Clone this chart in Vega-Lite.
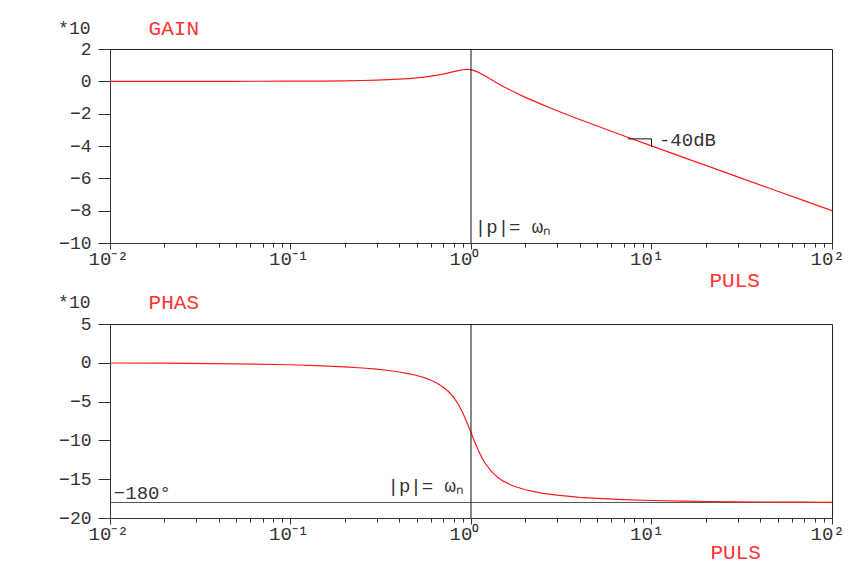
{
  "$schema": "https://vega.github.io/schema/vega-lite/v6.json",
  "background": "white",
  "padding": {"left": 57, "top": 17, "right": 0, "bottom": 0},
  "spacing": 81,
  "bounds": "flush",
  "config": {
    "font": "Liberation Mono",
    "view": {"stroke": "#222", "strokeWidth": 1},
    "axis": {
      "labelFont": "Liberation Mono", "labelFontSize": 18, "labelColor": "#333",
      "titleFont": "Liberation Mono", "titleFontWeight": "normal",
      "domainColor": "#333", "tickColor": "#333", "grid": false, "labelOverlap": false
    },
    "title": {"font": "Liberation Mono", "fontWeight": "normal", "fontSize": 21, "color": "#ff3333", "anchor": "start"}
  },
  "datasets": {
    "gain": [
      {"w": 0.01, "v": 0}, {"w": 0.02, "v": 0}, {"w": 0.05, "v": 0.002}, {"w": 0.1, "v": 0.008},
      {"w": 0.15, "v": 0.018}, {"w": 0.2, "v": 0.032}, {"w": 0.25, "v": 0.05}, {"w": 0.3, "v": 0.073},
      {"w": 0.35, "v": 0.1}, {"w": 0.4, "v": 0.133}, {"w": 0.45, "v": 0.171}, {"w": 0.5, "v": 0.214},
      {"w": 0.55, "v": 0.264}, {"w": 0.6, "v": 0.319}, {"w": 0.65, "v": 0.382}, {"w": 0.7, "v": 0.45},
      {"w": 0.75, "v": 0.522}, {"w": 0.8, "v": 0.596}, {"w": 0.85, "v": 0.664}, {"w": 0.9, "v": 0.715},
      {"w": 0.95, "v": 0.735}, {"w": 0.97, "v": 0.731}, {"w": 0.99, "v": 0.721}, {"w": 1.01, "v": 0.704},
      {"w": 1.03, "v": 0.68}, {"w": 1.05, "v": 0.65}, {"w": 1.1, "v": 0.555}, {"w": 1.15, "v": 0.444},
      {"w": 1.2, "v": 0.326}, {"w": 1.3, "v": 0.095}, {"w": 1.4, "v": -0.114}, {"w": 1.5, "v": -0.301},
      {"w": 1.7, "v": -0.616}, {"w": 2, "v": -0.99}, {"w": 2.5, "v": -1.459}, {"w": 3, "v": -1.818},
      {"w": 4, "v": -2.358}, {"w": 5, "v": -2.764}, {"w": 7, "v": -3.364}, {"w": 10, "v": -3.992},
      {"w": 15, "v": -4.701}, {"w": 20, "v": -5.202}, {"w": 30, "v": -5.908}, {"w": 50, "v": -6.796},
      {"w": 70, "v": -7.38}, {"w": 100, "v": -8.0}
    ],
    "phas": [
      {"w": 0.01, "v": -0.025}, {"w": 0.02, "v": -0.05}, {"w": 0.05, "v": -0.126}, {"w": 0.1, "v": -0.254},
      {"w": 0.15, "v": -0.386}, {"w": 0.2, "v": -0.524}, {"w": 0.25, "v": -0.669}, {"w": 0.3, "v": -0.825},
      {"w": 0.35, "v": -0.995}, {"w": 0.4, "v": -1.183}, {"w": 0.45, "v": -1.394}, {"w": 0.5, "v": -1.635},
      {"w": 0.55, "v": -1.913}, {"w": 0.6, "v": -2.242}, {"w": 0.65, "v": -2.635}, {"w": 0.7, "v": -3.113},
      {"w": 0.75, "v": -3.703}, {"w": 0.8, "v": -4.436}, {"w": 0.85, "v": -5.343}, {"w": 0.9, "v": -6.437},
      {"w": 0.95, "v": -7.687}, {"w": 0.97, "v": -8.212}, {"w": 0.99, "v": -8.738}, {"w": 1.01, "v": -9.259},
      {"w": 1.03, "v": -9.765}, {"w": 1.05, "v": -10.251}, {"w": 1.1, "v": -11.346}, {"w": 1.15, "v": -12.252},
      {"w": 1.2, "v": -12.981}, {"w": 1.3, "v": -14.034}, {"w": 1.4, "v": -14.731}, {"w": 1.5, "v": -15.216},
      {"w": 1.7, "v": -15.841}, {"w": 2, "v": -16.365}, {"w": 2.5, "v": -16.817}, {"w": 3, "v": -17.063},
      {"w": 4, "v": -17.331}, {"w": 5, "v": -17.476}, {"w": 7, "v": -17.633}, {"w": 10, "v": -17.746},
      {"w": 15, "v": -17.831}, {"w": 20, "v": -17.874}, {"w": 30, "v": -17.916}, {"w": 50, "v": -17.95},
      {"w": 70, "v": -17.964}, {"w": 100, "v": -17.975}
    ]
  },
  "vconcat": [
    {
      "width": 722, "height": 194,
      "title": {"text": "GAIN", "dx": 91, "offset": -20},
      "layer": [
        {
          "data": {"name": "gain"},
          "mark": {"type": "line", "color": "#ff1a1a", "strokeWidth": 1.2, "clip": true},
          "encoding": {
            "x": {"field": "w", "type": "quantitative",
              "scale": {"type": "log", "domain": [0.01, 100], "nice": false},
              "axis": {
                "title": "PULS", "titleColor": "#ff3333", "titleFontSize": 21,
                "titleAlign": "left", "titleBaseline": "alphabetic", "titleX": 599, "titleY": 43,
                "values": [0.01,0.02,0.03,0.04,0.05,0.06,0.07,0.08,0.09,0.1,0.2,0.3,0.4,0.5,0.6,0.7,0.8,0.9,1,2,3,4,5,6,7,8,9,10,20,30,40,50,60,70,80,90,100],
                "tickCount": 100,
                "labelExpr": "datum.value == 0.01 ? '10⁻²' : datum.value == 0.1 ? '10⁻¹' : datum.value == 1 ? '10⁰' : datum.value == 10 ? '10¹' : datum.value == 100 ? '10²' : ''",
                "labelAlign": "left", "labelOffset": -22, "labelPadding": 0, "labelFlush": false, "labelFontSize": 19, "labelOverlap": false,
                "tickSize": {"condition": {"test": "indexof([0.01,0.1,1,10,100], datum.value) >= 0", "value": 6}, "value": 4}
              }
            },
            "y": {"field": "v", "type": "quantitative",
              "scale": {"domain": [-10, 2], "nice": false},
              "axis": {
                "values": [2, 0, -2, -4, -6, -8, -10], "tickCount": 20, "format": "d", "tickSize": 12, "labelPadding": 7, "labelOverlap": false,
                "title": "*10", "titleAngle": 0, "titleAlign": "right", "titleBaseline": "alphabetic",
                "titleX": -20, "titleY": -16, "titleFontSize": 18, "titleColor": "#333"
              }
            }
          }
        },
        {
          "data": {"values": [{"w": 1}]},
          "mark": {"type": "rule", "color": "#111", "strokeWidth": 1},
          "encoding": {"x": {"field": "w", "type": "quantitative"}}
        },
        {
          "data": {"values": [{"w": 7.4, "w2": 10, "v": -3.56}]},
          "mark": {"type": "rule", "color": "#111", "strokeWidth": 1},
          "encoding": {"x": {"field": "w", "type": "quantitative"}, "x2": {"field": "w2"}, "y": {"field": "v", "type": "quantitative"}}
        },
        {
          "data": {"values": [{"w": 10, "v": -3.56, "v2": -4.07}]},
          "mark": {"type": "rule", "color": "#111", "strokeWidth": 1},
          "encoding": {"x": {"field": "w", "type": "quantitative"}, "y": {"field": "v", "type": "quantitative"}, "y2": {"field": "v2"}}
        },
        {
          "data": {"values": [
            {"w": 11.0, "v": -4.0, "t": "-40dB"},
            {"w": 1.05, "v": -9.4, "t": "|p|= ωₙ"}
          ]},
          "mark": {"type": "text", "font": "Liberation Mono", "fontSize": 19, "color": "#333", "baseline": "alphabetic", "align": "left"},
          "encoding": {"x": {"field": "w", "type": "quantitative"}, "y": {"field": "v", "type": "quantitative"}, "text": {"field": "t"}}
        }
      ]
    },
    {
      "width": 722, "height": 194,
      "title": {"text": "PHAS", "dx": 91, "offset": -20},
      "layer": [
        {
          "data": {"values": [{"v": -18}]},
          "mark": {"type": "rule", "color": "#555", "strokeWidth": 1},
          "encoding": {"y": {"field": "v", "type": "quantitative"}}
        },
        {
          "data": {"name": "phas"},
          "mark": {"type": "line", "color": "#ff1a1a", "strokeWidth": 1.2, "clip": true},
          "encoding": {
            "x": {"field": "w", "type": "quantitative",
              "scale": {"type": "log", "domain": [0.01, 100], "nice": false},
              "axis": {
                "title": "PULS", "titleColor": "#ff3333", "titleFontSize": 21,
                "titleAlign": "left", "titleBaseline": "alphabetic", "titleX": 600, "titleY": 40,
                "values": [0.01,0.02,0.03,0.04,0.05,0.06,0.07,0.08,0.09,0.1,0.2,0.3,0.4,0.5,0.6,0.7,0.8,0.9,1,2,3,4,5,6,7,8,9,10,20,30,40,50,60,70,80,90,100],
                "tickCount": 100,
                "labelExpr": "datum.value == 0.01 ? '10⁻²' : datum.value == 0.1 ? '10⁻¹' : datum.value == 1 ? '10⁰' : datum.value == 10 ? '10¹' : datum.value == 100 ? '10²' : ''",
                "labelAlign": "left", "labelOffset": -22, "labelPadding": 0, "labelFlush": false, "labelFontSize": 19, "labelOverlap": false,
                "tickSize": {"condition": {"test": "indexof([0.01,0.1,1,10,100], datum.value) >= 0", "value": 6}, "value": 4}
              }
            },
            "y": {"field": "v", "type": "quantitative",
              "scale": {"domain": [-20, 5], "nice": false},
              "axis": {
                "values": [5, 0, -5, -10, -15, -20], "tickCount": 20, "format": "d", "tickSize": 12, "labelPadding": 7, "labelOverlap": false,
                "title": "*10", "titleAngle": 0, "titleAlign": "right", "titleBaseline": "alphabetic",
                "titleX": -20, "titleY": -17, "titleFontSize": 18, "titleColor": "#333"
              }
            }
          }
        },
        {
          "data": {"values": [{"w": 1}]},
          "mark": {"type": "rule", "color": "#111", "strokeWidth": 1},
          "encoding": {"x": {"field": "w", "type": "quantitative"}}
        },
        {
          "data": {"values": [
            {"w": 0.0105, "v": -17.6, "t": "−180°"}
          ]},
          "mark": {"type": "text", "font": "Liberation Mono", "fontSize": 19, "color": "#333", "baseline": "alphabetic", "align": "left"},
          "encoding": {"x": {"field": "w", "type": "quantitative"}, "y": {"field": "v", "type": "quantitative"}, "text": {"field": "t"}}
        },
        {
          "data": {"values": [
            {"w": 0.914, "v": -16.7, "t": "|p|= ωₙ"}
          ]},
          "mark": {"type": "text", "font": "Liberation Mono", "fontSize": 19, "color": "#333", "baseline": "alphabetic", "align": "right"},
          "encoding": {"x": {"field": "w", "type": "quantitative"}, "y": {"field": "v", "type": "quantitative"}, "text": {"field": "t"}}
        }
      ]
    }
  ]
}
